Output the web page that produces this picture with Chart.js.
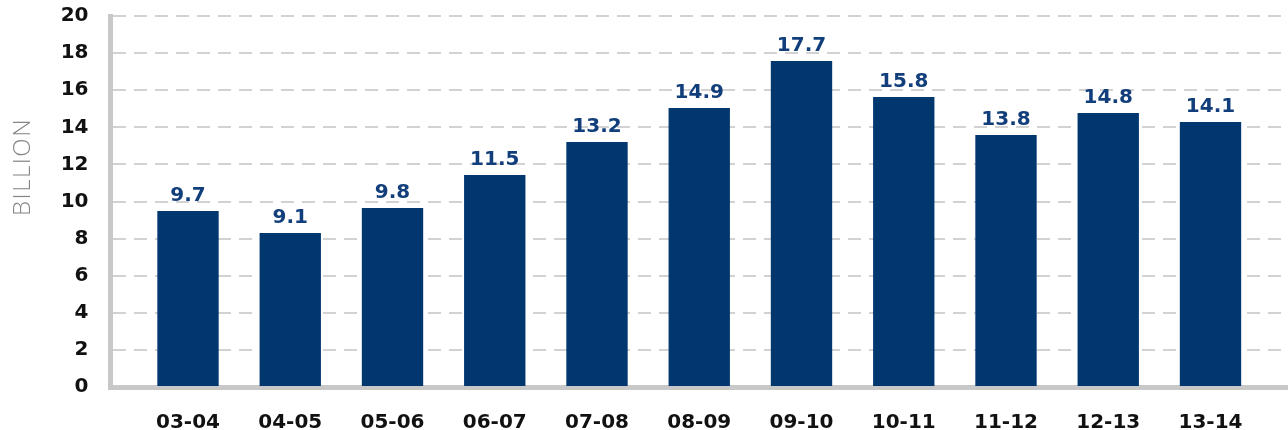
<!DOCTYPE html>
<html>
<head>
    <title>Billion by year</title>
    <script src="https://cdn.jsdelivr.net/npm/chart.js"></script>
    <style>
        html, body { margin: 0; padding: 0; background: #fff; }
        #wrap { width: 1288px; height: 430px; }
    </style>
</head>
<body>
    <div id="wrap"><canvas id="myChart" width="1288" height="430"></canvas></div>

    <script>
        // data
        const years = ['03-04', '04-05', '05-06', '06-07', '07-08', '08-09', '09-10', '10-11', '11-12', '12-13', '13-14'];
        const barValues = [9.49, 8.30, 9.65, 11.43, 13.21, 15.04, 17.57, 15.63, 13.58, 14.77, 14.29];
        const barLabels = ['9.7', '9.1', '9.8', '11.5', '13.2', '14.9', '17.7', '15.8', '13.8', '14.8', '14.1'];
        const yTicks = [0, 2, 4, 6, 8, 10, 12, 14, 16, 18, 20];

        const axisGray = '#c8c8c8';
        const tickFont = { family: 'DejaVu Sans', weight: 'bold', size: 20 };

        // value labels above bars + rotated axis title
        const labelPlugin = {
            id: 'barLabels',
            afterDatasetsDraw(chart) {
                const ctx = chart.ctx;
                const meta = chart.getDatasetMeta(0);
                ctx.save();
                ctx.font = 'bold 20px "DejaVu Sans"';
                ctx.fillStyle = '#123f7b';
                ctx.textAlign = 'center';
                ctx.textBaseline = 'alphabetic';
                meta.data.forEach((bar, i) => {
                    ctx.fillText(barLabels[i], bar.x, bar.y - 10);
                });
                ctx.restore();

                ctx.save();
                ctx.translate(30, 167);
                ctx.rotate(-Math.PI / 2);
                ctx.font = '300 24px "Open Sans"';
                ctx.letterSpacing = '1.5px';
                ctx.fillStyle = '#858585';
                ctx.textAlign = 'center';
                ctx.textBaseline = 'alphabetic';
                ctx.fillText('BILLION', 0, 0);
                ctx.restore();
            }
        };

        const ctx = document.getElementById('myChart').getContext('2d');
        new Chart(ctx, {
            type: 'bar',
            data: {
                datasets: [{
                    data: barValues.map((v, i) => ({ x: i, y: v })),
                    backgroundColor: '#00376f',
                    borderWidth: 0,
                    barPercentage: 0.6,
                    categoryPercentage: 1
                }]
            },
            options: {
                responsive: false,
                animation: false,
                layout: { padding: { top: 16, right: 0, left: 0, bottom: 0 } },
                plugins: {
                    legend: { display: false },
                    tooltip: { enabled: false }
                },
                scales: {
                    x: {
                        type: 'linear',
                        offset: false,
                        min: -0.758,
                        max: 10.758,
                        z: 1,
                        afterBuildTicks: s => { s.ticks = years.map((y, i) => ({ value: i })); },
                        afterFit: s => { s.height = 43; s.paddingLeft = 0; s.paddingRight = 0; },
                        grid: { display: false, drawTicks: false },
                        border: { display: true, color: axisGray, width: 5 },
                        ticks: {
                            callback: v => years[v],
                            font: tickFont,
                            color: '#111',
                            padding: 24,
                            maxRotation: 0,
                            autoSkip: false
                        }
                    },
                    y: {
                        min: 0,
                        max: 20,
                        z: 1,
                        afterBuildTicks: s => { s.ticks = yTicks.map(v => ({ value: v })); },
                        afterFit: s => { s.width = 110.5; s.paddingTop = 0; s.paddingBottom = 0; },
                        grid: { color: '#d2d2d2', lineWidth: 2, drawTicks: false },
                        border: { display: true, color: axisGray, width: 5, dash: [13, 8] },
                        ticks: {
                            font: tickFont,
                            color: '#111',
                            padding: 22
                        }
                    }
                }
            },
            plugins: [labelPlugin]
        });
    </script>
</body>
</html>
